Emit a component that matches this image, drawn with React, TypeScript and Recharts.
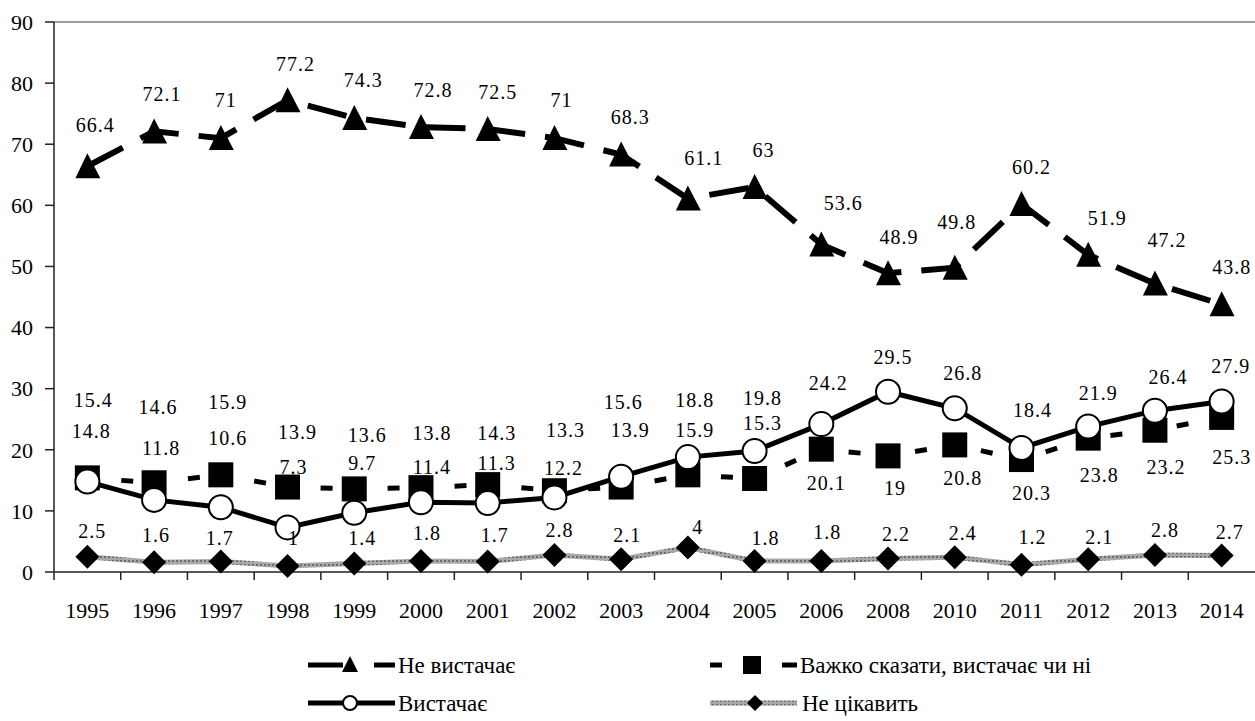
import React from 'react';
import { LineChart, Line, XAxis, YAxis, ReferenceLine, LabelList } from 'recharts';

// ---------- data ----------
const years = ['1995', '1996', '1997', '1998', '1999', '2000', '2001', '2002', '2003', '2004', '2005', '2006', '2008', '2010', '2011', '2012', '2013', '2014'];
const notEnough = [66.4, 72.1, 71, 77.2, 74.3, 72.8, 72.5, 71, 68.3, 61.1, 63, 53.6, 48.9, 49.8, 60.2, 51.9, 47.2, 43.8];
const hardToSay = [15.4, 14.6, 15.9, 13.9, 13.6, 13.8, 14.3, 13.3, 13.9, 15.9, 15.3, 20.1, 19, 20.8, 18.4, 21.9, 23.2, 25.3];
const enough = [14.8, 11.8, 10.6, 7.3, 9.7, 11.4, 11.3, 12.2, 15.6, 18.8, 19.8, 24.2, 29.5, 26.8, 20.3, 23.8, 26.4, 27.9];
const notInterested = [2.5, 1.6, 1.7, 1, 1.4, 1.8, 1.7, 2.8, 2.1, 4, 1.8, 1.8, 2.2, 2.4, 1.2, 2.1, 2.8, 2.7];
const yTicks = [0, 10, 20, 30, 40, 50, 60, 70, 80, 90];

const seriesNames = {
  notEnough: 'Не вистачає',
  hardToSay: 'Важко сказати, вистачає чи ні',
  enough: 'Вистачає',
  notInterested: 'Не цікавить',
};

const data = years.map((year, i) => ({
  year,
  notEnough: notEnough[i],
  hardToSay: hardToSay[i],
  enough: enough[i],
  notInterested: notInterested[i],
}));

// ---------- layout (label placement, px offsets from the point) ----------
const triDx = [8, 8, 5, 8, 9, 12, 10, 7, 9, 16, 9, 22, 11, 2, 10, 19, 12, 10];
const triDy = [-41, -37, -38, -36, -38, -37, -37, -38, -38, -41, -37, -41, -36, -46, -37, -37, -44, -37];
const circDx = [4, 7, 7, 6, 8, 11, 9, 9, 2, 7, 8, 7, 5, 8, 10, 11, 13, 9];
const circDy = [-51, -52, -69, -60, -50, -35, -40, -29, -75, -57, -53, -41, -35, -35, 45, 48, -34, -36];
const sqDx = [6, 4, 7, 10, 13, 11, 9, 11, 9, 7, 8, 5, 7, 8, 11, 10, 11, 10];
const sqDy = [-78, -76, -73, -55, -54, -55, -52, -61, -57, -45, -56, 34, 32, 33, -50, -45, 37, 40];
const diaDx = [5, 2, -1, 6, 8, 6, 7, 5, 6, 10, 11, 6, 8, 8, 11, 11, 10, 8];
const diaDy = [-26, -27, -24, -28, -25, -28, -27, -25, -24, -21, -23, -29, -25, -24, -28, -22, -25, -24];

const FONT = "'Liberation Serif', 'Times New Roman', Times, serif";
const W = 1255;
const H = 721;
const PLOT_LEFT = 54;
const PLOT_TOP = 22;
const PLOT_BOTTOM = 572;
const PLOT_W = W - PLOT_LEFT;
const X_AXIS_H = 40;

// ---------- markers ----------
const TriangleDot = (p: any) => {
  const { cx, cy } = p;
  if (cx == null || cy == null) return null;
  return <path d={`M${cx},${cy - 13} L${cx + 13},${cy + 12} L${cx - 12},${cy + 12} Z`} fill="#000" />;
};
const SquareDot = (p: any) => {
  const { cx, cy } = p;
  if (cx == null || cy == null) return null;
  return <rect x={cx - 12.5} y={cy - 12.5} width={25} height={25} fill="#000" />;
};
const CircleDot = (p: any) => {
  const { cx, cy } = p;
  if (cx == null || cy == null) return null;
  return <circle cx={cx} cy={cy} r={12} fill="#fff" stroke="#000" strokeWidth={2} />;
};
const DiamondDot = (p: any) => {
  const { cx, cy } = p;
  if (cx == null || cy == null) return null;
  return <path d={`M${cx},${cy - 12} L${cx + 12},${cy} L${cx},${cy + 12} L${cx - 12},${cy} Z`} fill="#000" />;
};

const makeLabel = (dxs: number[], dys: number[]) => (props: any) => {
  const { value, index } = props;
  const x = props.x ?? props.viewBox?.x;
  const y = props.y ?? props.viewBox?.y;
  if (x == null || y == null) return null;
  return (
    <text
      key={`lbl-${index}`}
      x={x + dxs[index]}
      y={y + dys[index]}
      textAnchor="middle"
      dominantBaseline="central"
      fontFamily={FONT}
      fontSize={20}
      letterSpacing={1}
      fill="#000"
    >
      {value}
    </text>
  );
};

const XTick = (props: any) => {
  const { x, y, payload } = props;
  const band = PLOT_W / years.length;
  return (
    <g>
      <line x1={x - band / 2} x2={x - band / 2} y1={y} y2={y + 8} stroke="#222" strokeWidth={1.5} />
      <text x={x} y={y + 38} textAnchor="middle" dominantBaseline="central" fontFamily={FONT} fontSize={22} fill="#000">
        {payload.value}
      </text>
    </g>
  );
};

const Legend = () => {
  const r1 = 665;
  const r2 = 703;
  const textProps = { fontFamily: FONT, fontSize: 23, fill: '#000', dominantBaseline: 'central' as const };
  return (
    <svg width={W} height={H} style={{ position: 'absolute', left: 0, top: 0, pointerEvents: 'none' }}>
      <defs>
        <pattern id="texGrayLegend" patternUnits="userSpaceOnUse" width="4" height="4">
          <rect width="4" height="4" fill="#a8a8a8" />
          <rect width="2" height="2" fill="#6e6e6e" />
        </pattern>
      </defs>
      {/* Не вистачає */}
      <line x1={308} x2={343} y1={r1} y2={r1} stroke="#000" strokeWidth={5} />
      <path d={`M350,${r1 - 9} L358,${r1 + 7} L342,${r1 + 7} Z`} fill="#000" />
      <line x1={374} x2={395} y1={r1} y2={r1} stroke="#000" strokeWidth={5} />
      <text x={398} y={r1} {...textProps}>{seriesNames.notEnough}</text>
      {/* Важко сказати */}
      <line x1={710} x2={722} y1={r1} y2={r1} stroke="#000" strokeWidth={5} />
      <rect x={743} y={r1 - 9} width={18} height={18} fill="#000" />
      <line x1={782} x2={797} y1={r1} y2={r1} stroke="#000" strokeWidth={5} />
      <text x={800} y={r1} {...textProps}>{seriesNames.hardToSay}</text>
      {/* Вистачає */}
      <line x1={308} x2={395} y1={r2} y2={r2} stroke="#000" strokeWidth={5} />
      <circle cx={350} cy={r2} r={7} fill="#fff" stroke="#000" strokeWidth={2} />
      <text x={398} y={r2} {...textProps}>{seriesNames.enough}</text>
      {/* Не цікавить */}
      <line x1={710} x2={797} y1={r2} y2={r2} stroke="url(#texGrayLegend)" strokeWidth={5} />
      <path d={`M755,${r2 - 8} L763,${r2} L755,${r2 + 8} L747,${r2} Z`} fill="#000" />
      <text x={802} y={r2} {...textProps}>{seriesNames.notInterested}</text>
    </svg>
  );
};

export default function App() {
  return (
    <div style={{ position: 'absolute', left: 0, top: 0, width: W, height: H, background: '#fff' }}>
      <LineChart
        width={W}
        height={H}
        data={data}
        margin={{ top: PLOT_TOP, right: 0, left: 0, bottom: H - PLOT_BOTTOM - X_AXIS_H }}
      >
        <defs>
          <pattern id="texGray" patternUnits="userSpaceOnUse" width="4" height="4">
            <rect width="4" height="4" fill="#a8a8a8" />
            <rect width="2" height="2" fill="#6e6e6e" />
          </pattern>
        </defs>
        <XAxis
          dataKey="year"
          type="category"
          scale="band"
          interval={0}
          tickLine={false}
          tickSize={0}
          tickMargin={0}
          height={X_AXIS_H}
          axisLine={{ stroke: '#222', strokeWidth: 1.5 }}
          tick={<XTick />}
        />
        <YAxis
          width={PLOT_LEFT}
          domain={[0, 90]}
          ticks={yTicks}
          interval={0}
          tickSize={9}
          tickMargin={12}
          axisLine={{ stroke: '#222', strokeWidth: 1.5 }}
          tickLine={{ stroke: '#222', strokeWidth: 1.5 }}
          tick={{ fontFamily: FONT, fontSize: 22, fill: '#000' }}
        />
        <ReferenceLine y={90} stroke="#9a9a9a" strokeWidth={2} />
        <Line
          dataKey="notInterested"
          name={seriesNames.notInterested}
          type="linear"
          stroke="url(#texGray)"
          strokeWidth={5}
          dot={<DiamondDot />}
          activeDot={false}
          isAnimationActive={false}
        >
          <LabelList dataKey="notInterested" content={makeLabel(diaDx, diaDy)} />
        </Line>
        <Line
          dataKey="hardToSay"
          name={seriesNames.hardToSay}
          type="linear"
          stroke="#000"
          strokeWidth={5}
          strokeDasharray="12 55"
          strokeDashoffset={33}
          dot={<SquareDot />}
          activeDot={false}
          isAnimationActive={false}
        >
          <LabelList dataKey="hardToSay" content={makeLabel(sqDx, sqDy)} />
        </Line>
        <Line
          dataKey="enough"
          name={seriesNames.enough}
          type="linear"
          stroke="#000"
          strokeWidth={5}
          dot={<CircleDot />}
          activeDot={false}
          isAnimationActive={false}
        >
          <LabelList dataKey="enough" content={makeLabel(circDx, circDy)} />
        </Line>
        <Line
          dataKey="notEnough"
          name={seriesNames.notEnough}
          type="linear"
          stroke="#000"
          strokeWidth={6}
          strokeDasharray="40 20"
          dot={<TriangleDot />}
          activeDot={false}
          isAnimationActive={false}
        >
          <LabelList dataKey="notEnough" content={makeLabel(triDx, triDy)} />
        </Line>
      </LineChart>
      <Legend />
    </div>
  );
}
